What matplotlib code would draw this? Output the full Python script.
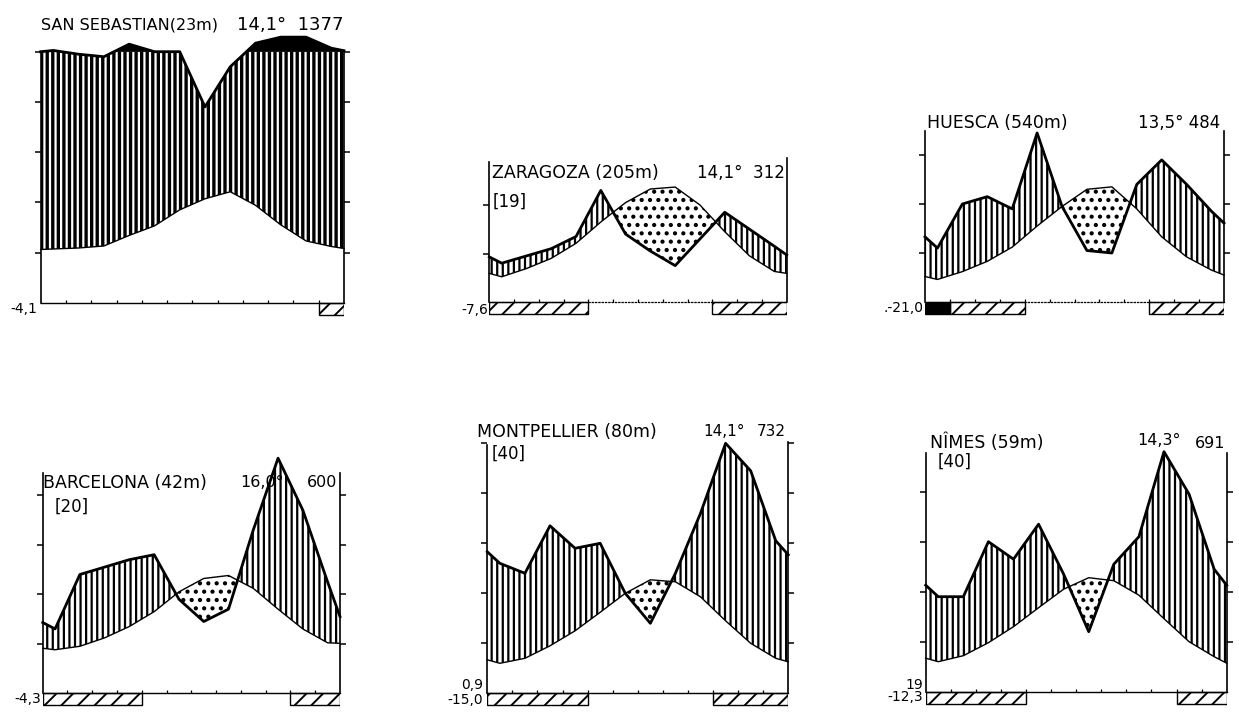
import numpy as np
import matplotlib
matplotlib.use('Agg')
import matplotlib.pyplot as plt

plt.rcParams['font.family'] = ['DejaVu Sans']
plt.rcParams['hatch.linewidth'] = 1.6
plt.rcParams['hatch.color'] = 'black'

W, H = 1239, 715

# ---------------- data (temperature in degC, precipitation in mm) ----------------
# values at month centres Jan..Dec, plus the values at the left/right edges of each diagram
ss_temp = [10.7, 10.9, 11.3, 13.4, 15.3, 18.5, 20.7, 22.1, 19.4, 15.5, 12.3, 11.2]
ss_temp_edges = [10.6, 10.8]
ss_prec = [105, 99, 98, 130, 100, 100, 78, 94, 134, 158, 158, 114]
ss_prec_edges = [100, 104]
ss_frost_prob = [11]
ss_frost_sure = []

za_temp = [5.2, 6.9, 9.0, 12.1, 16.5, 20.5, 23.3, 23.7, 20.0, 14.5, 9.5, 6.3]
za_temp_edges = [5.9, 5.9]
za_prec = [16, 19, 22, 27, 46, 28, 21, 15, 26, 37, 30, 23]
za_prec_edges = [18.6, 19.4]
za_frost_prob = [0, 1, 2, 3, 9, 10, 11]
za_frost_sure = []

hu_temp = [4.6, 6.2, 8.3, 11.2, 15.5, 19.5, 23.0, 23.5, 19.0, 13.3, 9.2, 6.5]
hu_temp_edges = [5.2, 5.5]
hu_prec = [22, 40, 43, 38, 69, 39, 21, 20, 48, 58, 48, 37]
hu_prec_edges = [26.6, 32.2]
hu_frost_prob = [1, 2, 3, 9, 10, 11]
hu_frost_sure = [0]

ba_temp = [8.8, 9.5, 11.2, 13.5, 16.5, 20.5, 23.2, 23.8, 21.2, 17.0, 13.0, 10.2]
ba_temp_edges = [9.1, 10.1]
ba_prec = [26, 48, 51, 54, 56, 38, 29, 34, 66, 95, 74, 45]
ba_prec_edges = [28.6, 31.0]
ba_frost_prob = [0, 1, 2, 3, 10, 11]
ba_frost_sure = []

mo_temp = [6.0, 7.0, 9.5, 12.5, 16.2, 20.0, 22.7, 22.3, 19.3, 14.5, 10.0, 7.0]
mo_temp_edges = [6.7, 6.3]
mo_prec = [52, 48, 67, 58, 60, 40, 28, 48, 72, 100, 89, 61]
mo_prec_edges = [56.6, 55.4]
mo_frost_prob = [0, 1, 2, 3, 9, 10, 11]
mo_frost_sure = []

ni_temp = [6.0, 7.2, 9.8, 13.0, 16.8, 20.5, 22.8, 22.2, 19.3, 14.6, 10.0, 7.0]
ni_temp_edges = [6.7, 5.7]
ni_prec = [38, 38, 60, 53, 67, 47, 24, 51, 62, 96, 79, 49]
ni_prec_edges = [42.6, 42.6]
ni_frost_prob = [0, 1, 2, 3, 10, 11]
ni_frost_sure = []

# ---------------- layout (pixels in the 1239x715 canvas) ----------------
# left axis x, right axis x, baseline y, pixels per degree
stations = [
    dict(temp=ss_temp, te=ss_temp_edges, prec=ss_prec, pe=ss_prec_edges,
         fp=ss_frost_prob, fs=ss_frost_sure, L=40.7, R=344.0, y0=302.7, s=5.02,
         top=(50, 50), ticks=[10, 20, 30, 40, 50], rticks=True, base='-', hlw=2.4,
         texts=[("SAN SEBASTIAN(23m)", 0.02, 55.3, 'left', 11.5),
                ("14,1°  1377", 11.98, 55.3, 'right', 13),
                ("-4,1", -0.15, -1.2, 'right', 10)]),
    dict(temp=za_temp, te=za_temp_edges, prec=za_prec, pe=za_prec_edges,
         fp=za_frost_prob, fs=za_frost_sure, L=489.3, R=786.7, y0=302.0, s=4.85,
         top=(28.9, 29.7), ticks=[10, 20], rticks=False, base=':', hlw=1.6,
         texts=[("ZARAGOZA (205m)", 0.1, 26.6, 'left', 12.5),
                ("14,1°  312", 11.93, 26.6, 'right', 12),
                ("[19]", 0.15, 20.6, 'left', 12),
                ("-7,6", -0.05, -1.7, 'right', 10)]),
    dict(temp=hu_temp, te=hu_temp_edges, prec=hu_prec, pe=hu_prec_edges,
         fp=hu_frost_prob, fs=hu_frost_sure, L=925.0, R=1224.0, y0=302.0, s=4.9,
         top=(34.8, 34.8), ticks=[10, 20, 30], rticks=True, base=':', hlw=1.6,
         texts=[("HUESCA (540m)", 0.07, 36.6, 'left', 12.5),
                ("13,5° 484", 11.84, 36.6, 'right', 12),
                (".-21,0", -0.08, -1.3, 'right', 10)]),
    dict(temp=ba_temp, te=ba_temp_edges, prec=ba_prec, pe=ba_prec_edges,
         fp=ba_frost_prob, fs=ba_frost_sure, L=42.7, R=340.0, y0=693.3, s=4.95,
         top=(44.5, 44.5), ticks=[10, 20, 30, 40], rticks=True, base='-', hlw=1.6,
         texts=[("BARCELONA (42m)", 0.01, 42.5, 'left', 12.5),
                ("16,0°", 7.96, 42.5, 'left', 11.5),
                ("600", 11.88, 42.5, 'right', 11.5),
                ("[20]", 0.5, 37.6, 'left', 12),
                ("-4,3", -0.05, -1.1, 'right', 10)]),
    dict(temp=mo_temp, te=mo_temp_edges, prec=mo_prec, pe=mo_prec_edges,
         fp=mo_frost_prob, fs=mo_frost_sure, L=487.3, R=788.3, y0=693.3, s=5.0,
         top=(49.7, 50.3), ticks=[10, 20, 30, 40, 50], rticks=True, base='-', hlw=1.6,
         texts=[("MONTPELLIER (80m)", -0.42, 52.3, 'left', 12.5),
                ("14,1°", 8.6, 52.3, 'left', 11),
                ("732", 11.9, 52.3, 'right', 11),
                ("[40]", 0.18, 48.0, 'left', 12),
                ("0,9", -0.17, 1.7, 'right', 10),
                ("-15,0", -0.17, -1.3, 'right', 10)]),
    dict(temp=ni_temp, te=ni_temp_edges, prec=ni_prec, pe=ni_prec_edges,
         fp=ni_frost_prob, fs=ni_frost_sure, L=925.7, R=1226.7, y0=691.7, s=5.0,
         top=(47.7, 47.7), ticks=[10, 20, 30, 40], rticks=True, base='-', hlw=1.6,
         texts=[("NÎMES (59m)", 0.17, 49.7, 'left', 12.5),
                ("14,3°", 8.42, 50.3, 'left', 11.5),
                ("691", 11.93, 49.7, 'right', 11.5),
                ("[40]", 0.49, 46.0, 'left', 12),
                ("19", -0.1, 1.4, 'right', 10),
                ("-12,3", -0.1, -1.1, 'right', 10)]),
]

YMIN, YMAX = -4.0, 58.0
FROST_H = 2.4


def to_units(p):
    p = np.asarray(p, float)
    return np.where(p <= 100, p / 2.0, 50 + (p - 100) / 20.0)


def runs(months):
    out = []
    for m in sorted(months):
        if out and out[-1][1] == m:
            out[-1][1] = m + 1
        else:
            out.append([m, m + 1])
    return out


def set_hlw(artist, lw):
    try:
        artist.set_hatch_linewidth(lw)
    except Exception:
        pass


fig = plt.figure(figsize=(W / 100, H / 100), dpi=100)
fig.patch.set_facecolor('white')

for st in stations:
    L, R, y0, s = st['L'], st['R'], st['y0'], st['s']
    bottom_px = y0 - YMIN * s
    height_px = (YMAX - YMIN) * s
    ax = fig.add_axes([L / W, (H - bottom_px) / H, (R - L) / W, height_px / H])
    ax.set_xlim(0, 12)
    ax.set_ylim(YMIN, YMAX)
    ax.patch.set_alpha(0)

    x = np.concatenate([[0.0], np.arange(12) + 0.5, [12.0]])
    T = np.concatenate([[st['te'][0]], st['temp'], [st['te'][1]]]).astype(float)
    P = to_units(np.concatenate([[st['pe'][0]], st['prec'], [st['pe'][1]]]))

    # fine grid along the straight segments so that fills follow the polylines exactly
    xf = np.linspace(0, 12, 2401)
    Tf = np.interp(xf, x, T)
    Pf = np.interp(xf, x, P)
    Pcf = np.minimum(Pf, 50.0)

    with plt.rc_context({'hatch.linewidth': st['hlw']}):
        humid = ax.fill_between(xf, Tf, Pcf, where=Pf >= Tf, interpolate=True,
                                facecolor='white', edgecolor='black', hatch='|||',
                                linewidth=0, zorder=1)
        set_hlw(humid, st['hlw'])
    with plt.rc_context({'hatch.linewidth': 1.8}):
        arid = ax.fill_between(xf, Pf, Tf, where=Tf > Pf, interpolate=True,
                               facecolor='white', edgecolor='black', hatch='..',
                               linewidth=0, zorder=1)
        set_hlw(arid, 1.8)
    if np.any(P > 50):
        ax.fill_between(xf, 50, Pf, where=Pf > 50, interpolate=True,
                        facecolor='black', edgecolor='black', linewidth=0.5, zorder=1.5)

    ax.plot(x, T, color='black', lw=1.0, zorder=3, clip_on=False, solid_joinstyle='round')
    ax.plot(x, P, color='black', lw=2.0, zorder=3, clip_on=False, solid_joinstyle='round')

    # frost bars under the baseline
    with plt.rc_context({'hatch.linewidth': 1.4}):
        for a, b in runs(st['fp']):
            bar = ax.bar([a], [FROST_H], width=b - a, bottom=-FROST_H, align='edge',
                         facecolor='white', edgecolor='black', hatch='//', linewidth=1.0,
                         zorder=2)
            for p in bar:
                set_hlw(p, 1.4)
    for a, b in runs(st['fs']):
        ax.bar([a], [FROST_H], width=b - a, bottom=-FROST_H, align='edge',
               facecolor='black', edgecolor='black', linewidth=1.0, zorder=2)

    # axes frame
    ax.spines['top'].set_visible(False)
    for side in ('left', 'right'):
        ax.spines[side].set_linewidth(1.2)
    ax.spines['left'].set_bounds(0, st['top'][0])
    ax.spines['right'].set_bounds(0, st['top'][1])
    ax.spines['bottom'].set_position(('data', 0))
    ax.spines['bottom'].set_bounds(0, 12)
    ax.spines['bottom'].set_linestyle(st['base'])
    ax.spines['bottom'].set_linewidth(1.0 if st['base'] == '-' else 0.9)

    ax.set_yticks(st['ticks'])
    ax.tick_params(axis='y', direction='out', length=4, width=1.1,
                   left=True, right=st['rticks'], labelleft=False, labelright=False)
    ax.set_xticks(np.arange(1, 12))
    ax.tick_params(axis='x', direction='in', length=2.5, width=0.9,
                   bottom=True, labelbottom=False)

    for txt, tx, ty, ha, fs in st['texts']:
        ax.text(tx, ty, txt, ha=ha, va='center', fontsize=fs, color='black',
                clip_on=False)

fig.savefig('out.png', dpi=100, facecolor='white')
